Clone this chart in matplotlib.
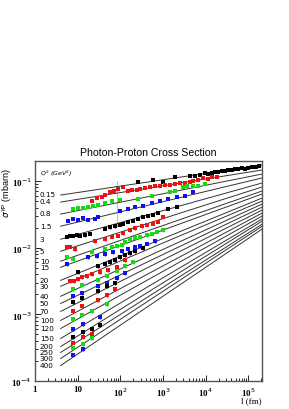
import numpy as np
import matplotlib
matplotlib.use("Agg")
import matplotlib.pyplot as plt
from matplotlib.ticker import LogLocator, FixedLocator, NullFormatter

# ---------------------------------------------------------
# Data: Q^2 bins, fit lines (sigma at l = 4 fm and at l = 2.1e5 fm)
# ---------------------------------------------------------
q2_labels = ["0.15", "0.4", "0.8", "1.5", "3", "5", "10", "15", "20", "30",
             "40", "50", "70", "100", "120", "150", "200", "250", "300", "400"]
fit_l = [4.0, 2.1e5]
fit_lo = [0.0615, 0.0483, 0.0319, 0.0210, 0.0134, 0.00885, 0.00627, 0.00509,
          0.00324, 0.00264, 0.00187, 0.00146, 0.00111, 0.000813, 0.000615,
          0.000436, 0.000330, 0.000269, 0.000218, 0.000171]
fit_hi = [0.174, 0.146, 0.127, 0.111, 0.0933, 0.0813, 0.0708, 0.0638, 0.0555,
          0.0500, 0.0451, 0.0406, 0.0366, 0.0330, 0.0298, 0.0269, 0.0250,
          0.0225, 0.0210, 0.0190]

# measured points, one pair of lists per Q^2 bin
l_015 = [258, 580, 995, 1900, 4266, 5585, 7311, 9577, 11270, 13970, 16410, 19300,
         23950, 28170, 33110, 41100, 48300, 56800, 70500, 82800, 97300, 120800,
         150000, 176000]
s_015 = [0.0966, 0.1035, 0.0966, 0.1148, 0.1188, 0.1188, 0.1230, 0.1317, 0.1273,
         0.1317, 0.1364, 0.1364, 0.1412, 0.1412, 0.1462, 0.1462, 0.1514, 0.1514,
         0.1568, 0.1514, 0.1568, 0.1625, 0.1625, 0.168]
l_04 = [21.6, 28.3, 37.1, 43.6, 57.1, 70.8, 87.9, 115, 151, 187, 245, 288, 377,
        493, 646, 846, 1107, 1452, 1900, 2489, 3258, 4266, 5012, 6561, 8592,
        11270, 13970, 18290]
s_04 = [0.0500, 0.0555, 0.0575, 0.0616, 0.0684, 0.0708, 0.0758, 0.0813, 0.0708,
        0.0733, 0.0733, 0.0758, 0.0785, 0.0813, 0.0841, 0.0841, 0.0871, 0.0871,
        0.0901, 0.0933, 0.0933, 0.0966, 0.100, 0.1035, 0.1109, 0.1071, 0.1148,
        0.1148]
l_08 = [7.8, 10.2, 13.3, 17.4, 22.8, 29.9, 43.6, 63.6, 97.9, 258, 550, 1452, 1900,
        2925, 3631, 5012, 6561, 9577]
s_08 = [0.0379, 0.0393, 0.0393, 0.0406, 0.0421, 0.0436, 0.0467, 0.0500, 0.0518,
        0.0536, 0.0595, 0.0684, 0.0708, 0.0813, 0.0841, 0.0841, 0.0841, 0.0901]
l_15 = [5.93, 7.8, 10.2, 13.3, 17.4, 25.4, 29.9, 97.9, 151, 220, 338, 550, 846,
        1303, 2117, 3258, 5012]
s_15 = [0.0250, 0.0269, 0.0259, 0.0278, 0.0259, 0.0269, 0.0288, 0.0354, 0.0379,
        0.0406, 0.0421, 0.0467, 0.0500, 0.0536, 0.0575, 0.0595, 0.0684]
l_3 = [5.6, 6.6, 7.8, 9.6, 11.3, 14.8, 19.4, 43.6, 57.1, 74.8, 97.9, 115, 151, 197,
       258, 338, 443, 580, 760, 1303, 2117]
s_3 = [0.0144, 0.0149, 0.0149, 0.0154, 0.0149, 0.0154, 0.0160, 0.0190, 0.0203,
       0.0210, 0.0218, 0.0226, 0.0242, 0.0250, 0.0269, 0.0288, 0.0298, 0.0308,
       0.0330, 0.0379, 0.0406]
l_5 = [5.6, 6.6, 8.6, 25.4, 43.6, 63.6, 87.9, 115, 168, 220, 320, 420, 580, 760, 995]
s_5 = [0.0102, 0.0102, 0.00949, 0.0125, 0.0134, 0.0144, 0.0149, 0.0165, 0.0183,
       0.0196, 0.0210, 0.0218, 0.0226, 0.0242, 0.0288]
l_10 = [5.6, 7.8, 21.6, 43.6, 63.6, 83.2, 109, 128, 168, 220, 288, 420, 550, 720, 995]
s_10 = [0.00719, 0.00671, 0.00855, 0.00949, 0.0102, 0.0105, 0.0109, 0.0121, 0.0134,
        0.0139, 0.0144, 0.0154, 0.0160, 0.0171, 0.0183]
l_15b = [5.6, 17.4, 28.3, 43.6, 67.1, 109, 151, 220, 288, 420, 646]
s_15b = [0.00565, 0.00719, 0.00745, 0.00798, 0.00855, 0.00886, 0.00949, 0.0102,
         0.0105, 0.0113, 0.0125]
l_20 = [10.2, 29.9, 43.6, 57.1, 74.8, 97.9, 128, 168, 220, 338]
s_20 = [0.00428, 0.00527, 0.00565, 0.00605, 0.00648, 0.00719, 0.00771, 0.00826,
        0.00886, 0.00983]
l_30 = [6.6, 8.2, 10.2, 12.6, 16.5, 21.6, 33.3, 51.3, 83.2, 128]
s_30 = [0.00313, 0.00313, 0.00336, 0.00360, 0.00373, 0.00400, 0.00428, 0.00459,
        0.00509, 0.00648]
l_40 = [7.8, 12.6, 29.9, 48.5, 83.2, 128, 197]
s_40 = [0.00238, 0.00273, 0.00324, 0.00373, 0.00443, 0.00527, 0.00605]
l_50 = [7.8, 12.6, 29.9, 48.5, 83.2, 128]
s_50 = [0.00187, 0.00207, 0.00264, 0.00292, 0.00348, 0.00414]
l_70 = [7.8, 12.6, 29.9, 48.5, 74.8]
s_70 = [0.00151, 0.00174, 0.00222, 0.00264, 0.00292]
l_100 = [7.8, 12.6, 29.9, 48.5, 74.8]
s_100 = [0.00111, 0.00132, 0.00163, 0.00193, 0.00238]
l_120 = [7.8, 12.6, 21.6, 48.5]
s_120 = [0.000841, 0.000966, 0.00111, 0.00141]
l_150 = [7.8, 13.3, 33.3]
s_150 = [0.000595, 0.000708, 0.000902]
l_200 = [7.8, 13.3, 21.6, 33.3]
s_200 = [0.000451, 0.000536, 0.000595, 0.000684]
l_250 = [7.8, 13.3, 21.6]
s_250 = [0.000379, 0.000451, 0.000500]
l_300 = [7.8, 13.3, 21.6]
s_300 = [0.000319, 0.000354, 0.000436]
l_400 = [7.8, 13.3]
s_400 = [0.000250, 0.000298]

l_data = [l_015, l_04, l_08, l_15, l_3, l_5, l_10, l_15b, l_20, l_30,
          l_40, l_50, l_70, l_100, l_120, l_150, l_200, l_250, l_300, l_400]
s_data = [s_015, s_04, s_08, s_15, s_3, s_5, s_10, s_15b, s_20, s_30,
          s_40, s_50, s_70, s_100, s_120, s_150, s_200, s_250, s_300, s_400]
rel_err = 0.045

# one point with a very large uncertainty (faint grey bar)
big_l = [83.2]
big_lo = [0.0204]
big_hi = [0.100]

cycle = ["black", "#ee1111", "#11dd11", "#1111ee"]

# ---------------------------------------------------------
# Plot
# ---------------------------------------------------------
fig = plt.figure(figsize=(2.89, 4.10), dpi=100)
ax = fig.add_axes([0.121, 0.068, 0.786, 0.537])
ax.set_xscale("log")
ax.set_yscale("log")
ax.set_xlim(1, 2.1e5)
ax.set_ylim(1e-4, 10 ** -0.7)

ax.vlines(big_l, big_lo, big_hi, color="#bbbbbb", lw=0.7, zorder=1)

for i in range(len(q2_labels)):
    ax.plot(fit_l, [fit_lo[i], fit_hi[i]], color="#333333", lw=0.7, zorder=2)
    s = np.array(s_data[i])
    ax.errorbar(l_data[i], s, yerr=rel_err * s, fmt="s", ms=2.6,
                color=cycle[i % 4], ecolor=cycle[i % 4], elinewidth=0.9,
                capsize=0, mew=0, zorder=3)
    ax.text(1.3, fit_lo[i] * 1.02, q2_labels[i], fontsize=5.2, ha="left",
            va="center", family="DejaVu Sans")

ax.text(1.3, 10 ** -0.88, r"$Q^2$ (GeV$^2$)", fontsize=4.5, ha="left",
        va="center", style="italic")

# ---------------------------------------------------------
# Axes style (ROOT-like)
# ---------------------------------------------------------
ax.xaxis.set_major_locator(FixedLocator([1, 10, 100, 1e3, 1e4, 1e5]))
ax.xaxis.set_minor_locator(LogLocator(base=10, subs=np.arange(2, 10)))
ax.xaxis.set_minor_formatter(NullFormatter())
ax.yaxis.set_major_locator(FixedLocator([1e-4, 1e-3, 1e-2, 1e-1]))
ax.yaxis.set_minor_locator(LogLocator(base=10, subs=np.arange(2, 10)))
ax.yaxis.set_minor_formatter(NullFormatter())
ax.set_xticklabels(["1", "10", r"10$^{2}$", r"10$^{3}$", r"10$^{4}$", r"10$^{5}$"])
ax.set_yticklabels([r"10$^{-4}$", r"10$^{-3}$", r"10$^{-2}$", r"10$^{-1}$"])
ax.tick_params(which="both", direction="in", top=False, right=False,
               labelsize=6.5, width=0.6)
ax.tick_params(which="major", length=4)
ax.tick_params(axis="y", which="major", pad=2.5)
ax.tick_params(axis="x", which="major", pad=3)
ax.tick_params(which="minor", length=2)
for lab in ax.get_xticklabels() + ax.get_yticklabels():
    lab.set_family("Liberation Serif")
    lab.set_fontweight("bold")
for sp in ax.spines.values():
    sp.set_color("#555555")
    sp.set_linewidth(1.0)

ax.set_title("Photon-Proton Cross Section", fontsize=7.6, pad=4,
             family="Liberation Sans")
ax.set_ylabel(r"$\sigma^{\gamma p}$ (mbarn)", fontsize=6.5, family="Liberation Sans")
ax.yaxis.set_label_coords(-0.095, 0.86)
ax.set_xlabel("l (fm)", fontsize=6.5, family="Liberation Serif")
ax.xaxis.set_label_coords(1.0, -0.07)
ax.xaxis.label.set_ha("right")

fig.savefig("out.png", dpi=100)
